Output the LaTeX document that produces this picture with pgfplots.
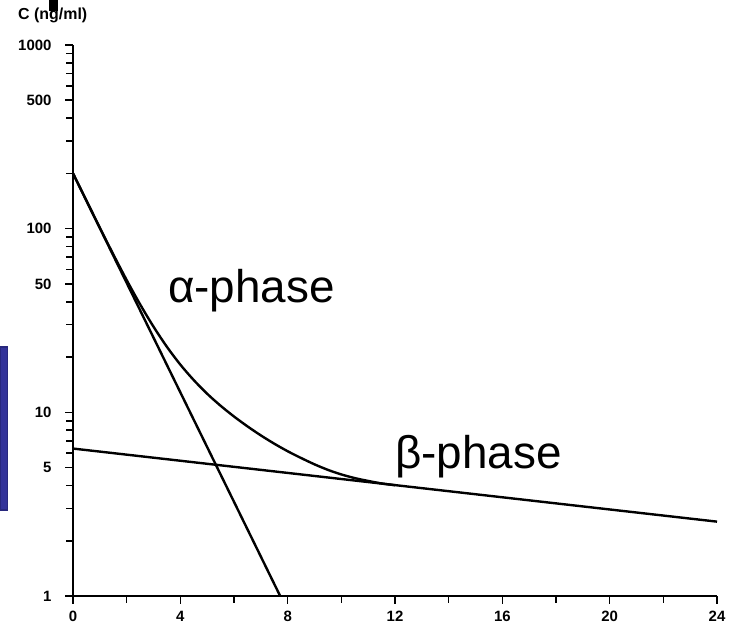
\documentclass[border=0pt]{standalone}
\usepackage{pgfplots}
\pgfplotsset{compat=1.18}
\usepackage{fontspec}
\setmainfont{Liberation Sans}
\definecolor{slideblue}{RGB}{51,51,153}
\definecolor{slideblueedge}{RGB}{40,40,125}
\begin{document}
\begin{tikzpicture}[x=1bp,y=1bp]
\useasboundingbox (0,0) rectangle (733,625);
\begin{axis}[
  at={(73bp,29bp)}, anchor=south west,
  scale only axis, width=644bp, height=551bp,
  ymode=log, xmin=0, xmax=24, ymin=1, ymax=1000,
  axis x line*=bottom, axis y line*=left,
  axis line style={line width=2.4bp},
  clip=false,
  xtick={0,4,8,12,16,20,24},
  minor xtick={2,6,10,14,18,22},
  ytick={1,5,10,50,100,500,1000},
  yticklabels={1,5,10,50,100,500,1000},
  minor ytick={2,3,4,6,7,8,9,20,30,40,60,70,80,90,200,300,400,600,700,800,900},
  tick align=outside,
  major tick length=8bp, minor tick length=7bp,
  every tick/.style={line width=1.6bp, black},
  /pgf/number format/assume math mode=true,
  ticklabel style={font=\bfseries\fontsize{15}{15}\selectfont},
  yticklabel style={xshift=-10bp},
  xticklabel style={yshift=-4bp},
]
\addplot[black, line width=2.4bp] coordinates {(0,200) (7.72,1)};
\addplot[black, line width=2.4bp] coordinates {(0,6.35) (24,2.54)};
\addplot[black, line width=2.4bp, smooth, tension=0.5] coordinates {
  (0,200) (0.5,142.1) (1,101.2) (1.5,72.5) (2,52.5) (2.5,38.75) (3,29.27)
  (3.5,22.73) (4,18.19) (4.5,14.98) (5,12.62) (5.5,10.86) (6,9.49)
  (6.5,8.39) (7,7.49) (7.5,6.75) (8,6.14) (8.5,5.64) (9,5.21) (9.5,4.86)
  (10,4.59) (10.5,4.385) (11,4.23) (11.5,4.10) (12,4.01)};
\end{axis}
\node[anchor=west, inner sep=0pt, font=\bfseries\fontsize{16}{16}\selectfont] at (18,610) {C (ng/ml)};
\fill[black] (49,614) rectangle (58,625);
\fill[slideblue, draw=slideblueedge, line width=1.5bp] (0,115) rectangle (7.5,278);
\node[anchor=base west, inner sep=0pt, font=\fontsize{46}{46}\selectfont] at (168,322) {α-phase};
\node[anchor=base west, inner sep=0pt, font=\fontsize{46}{46}\selectfont] at (395,156) {β-phase};
\end{tikzpicture}
\end{document}
